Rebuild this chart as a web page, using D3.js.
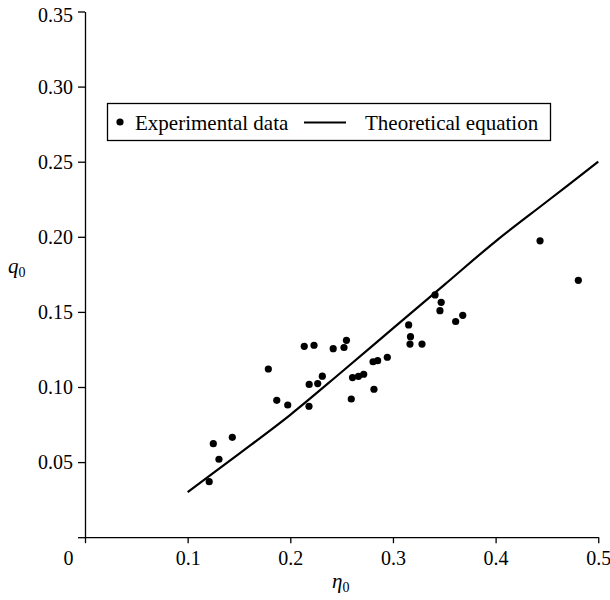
<!DOCTYPE html>
<html>
<head>
<meta charset="utf-8">
<script src="https://cdn.jsdelivr.net/npm/d3@7"></script>
<style>
  body { margin: 0; background: #fff; }
  svg { display: block; }
  .axis text { font-family: "Liberation Serif", Tinos, "Times New Roman", Times, "Nimbus Roman", "DejaVu Serif", serif; font-size: 20px; fill: #000; }
  .axis path, .axis line { stroke: #000; stroke-width: 1.3px; }
  .legend text { font-family: "Liberation Serif", Tinos, "Times New Roman", Times, "Nimbus Roman", "DejaVu Serif", serif; font-size: 21px; fill: #000; }
  .title { font-family: "Liberation Serif", Tinos, "Times New Roman", Times, "Nimbus Roman", "DejaVu Serif", serif; font-size: 21px; font-style: italic; fill: #000; }
</style>
</head>
<body>
<div id="chart"></div>
<script>
// experimental points (eta0, q0)
var expEta = [0.121, 0.125, 0.1305, 0.1435, 0.1786, 0.1868, 0.1975, 0.2136, 0.2231, 0.2184,
              0.2267, 0.2312, 0.2182, 0.2418, 0.2523, 0.2547, 0.2594, 0.2606, 0.2664, 0.2715,
              0.2815, 0.2806, 0.2851, 0.2945, 0.3153, 0.3171, 0.3166, 0.3283, 0.341, 0.347,
              0.3458, 0.3611, 0.368, 0.4433, 0.4806];
var expQ = [0.037, 0.0623, 0.0519, 0.0665, 0.112, 0.0911, 0.088, 0.1271, 0.1278, 0.1017,
            0.1023, 0.1072, 0.0872, 0.1255, 0.1263, 0.1311, 0.092, 0.1063, 0.1071, 0.1085,
            0.0985, 0.1168, 0.1175, 0.1198, 0.1413, 0.1335, 0.1286, 0.1286, 0.1613, 0.1564,
            0.1508, 0.1436, 0.1477, 0.1973, 0.171];

// theoretical curve
var theoEta = [0.1, 0.15, 0.2, 0.25, 0.3, 0.35, 0.4, 0.45, 0.5];
var theoQ = [0.03, 0.0555, 0.0815, 0.110, 0.139, 0.168, 0.197, 0.2235, 0.25];

var xTicks = [0, 0.1, 0.2, 0.3, 0.4, 0.5];
var xTickLabels = ["0", "0.1", "0.2", "0.3", "0.4", "0.5"];
var yTicks = [0, 0.05, 0.10, 0.15, 0.20, 0.25, 0.30, 0.35];
var yTickLabels = ["", "0.05", "0.10", "0.15", "0.20", "0.25", "0.30", "0.35"];
var legendLabels = ["Experimental data", "Theoretical equation"];

var margin = { top: 11.5, right: 12, bottom: 63, left: 85 },
    width = 610 - margin.left - margin.right,
    height = 600 - margin.top - margin.bottom;

var svg = d3.select("#chart").append("svg")
    .attr("width", 610)
    .attr("height", 600);

var g = svg.append("g")
    .attr("transform", "translate(" + margin.left + "," + margin.top + ")");

var x = d3.scaleLinear()
    .domain([0, 0.5])
    .range([0, 513.25]);

var y = d3.scaleLinear()
    .domain([0, 0.35])
    .range([525.7, 0]);

var xAxis = d3.axisBottom(x)
    .tickValues(xTicks)
    .tickSize(6)
    .tickSizeOuter(0)
    .tickPadding(8)
    .tickFormat(function (d, i) { return xTickLabels[i]; });

var yAxis = d3.axisLeft(y)
    .tickValues(yTicks)
    .tickSize(7)
    .tickSizeOuter(0)
    .tickPadding(5)
    .tickFormat(function (d, i) { return yTickLabels[i]; });

var gx = g.append("g")
    .attr("class", "axis")
    .attr("transform", "translate(0," + y(0) + ")")
    .call(xAxis);

gx.attr("font-family", null).attr("font-size", null);

// origin label sits left of the corner
gx.selectAll(".tick text")
    .filter(function (d) { return d === 0; })
    .attr("x", -17);

var gy = g.append("g")
    .attr("class", "axis")
    .call(yAxis);

gy.attr("font-family", null).attr("font-size", null);

gy.selectAll(".tick text")
    .filter(function (d) { return d === 0.35; })
    .attr("dy", "0.52em");

var line = d3.line()
    .x(function (d, i) { return x(theoEta[i]); })
    .y(function (d, i) { return y(theoQ[i]); })
    .curve(d3.curveCatmullRom);

g.append("path")
    .datum(theoQ)
    .attr("d", line)
    .attr("fill", "none")
    .attr("stroke", "#000")
    .attr("stroke-width", 2.2);

g.selectAll(".dot")
    .data(expQ)
    .enter()
    .append("circle")
    .attr("class", "dot")
    .attr("cx", function (d, i) { return x(expEta[i]); })
    .attr("cy", function (d) { return y(d); })
    .attr("r", 3.6)
    .attr("fill", "#000");

// legend
var legend = svg.append("g")
    .attr("class", "legend");

legend.append("rect")
    .attr("x", 107.5)
    .attr("y", 103.5)
    .attr("width", 443)
    .attr("height", 37)
    .attr("fill", "#fff")
    .attr("stroke", "#000")
    .attr("stroke-width", 1.3);

legend.append("circle")
    .attr("cx", 120)
    .attr("cy", 122)
    .attr("r", 3.6)
    .attr("fill", "#000");

legend.append("text")
    .attr("x", 135)
    .attr("y", 130)
    .text(legendLabels[0]);

legend.append("line")
    .attr("x1", 304)
    .attr("x2", 346)
    .attr("y1", 122.5)
    .attr("y2", 122.5)
    .attr("stroke", "#000")
    .attr("stroke-width", 2.2);

legend.append("text")
    .attr("x", 365)
    .attr("y", 130)
    .text(legendLabels[1]);

// axis titles
var qLabel = svg.append("text")
    .attr("class", "title")
    .attr("x", 8)
    .attr("y", 273);
qLabel.append("tspan").text("q");
qLabel.append("tspan")
    .attr("dy", 4)
    .style("font-style", "normal")
    .style("font-size", "14px")
    .text("0");

var etaLabel = svg.append("text")
    .attr("class", "title")
    .attr("x", 332)
    .attr("y", 588);
etaLabel.append("tspan").text("η");
etaLabel.append("tspan")
    .attr("dy", 4)
    .style("font-style", "normal")
    .style("font-size", "14px")
    .text("0");
</script>
</body>
</html>
